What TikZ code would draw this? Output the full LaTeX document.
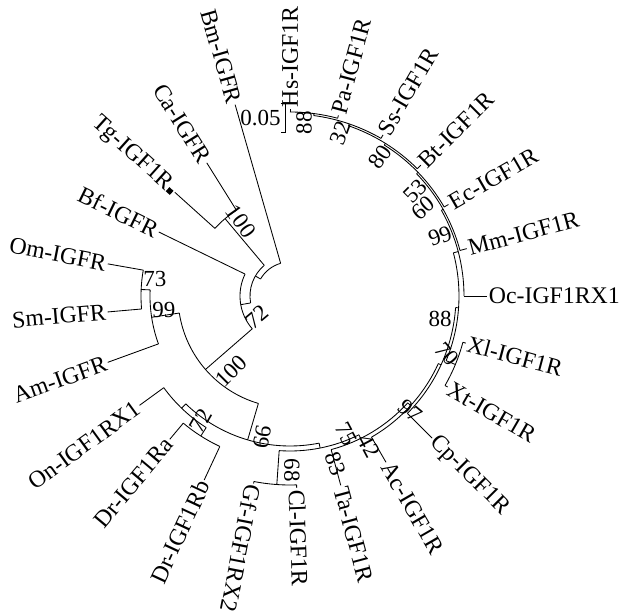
\documentclass[tikz,border=0pt]{standalone}
\usepackage{fontspec}
\setmainfont{Liberation Serif}
\newcommand{\tleaf}[4]{\coordinate (#1b) at (#2:#3);\coordinate (#1) at (#2:#4);\draw (#1b) -- (#1);}
\newcommand{\tnode}[6]{\coordinate (#1b) at (#2:#3);\coordinate (#1) at (#2:#4);\draw (#1b) -- (#1);\draw (#5:#4) arc[start angle=#5,end angle=#6,radius=#4];}
\begin{document}
\begin{tikzpicture}[x=1pt,y=1pt,line width=0.85pt,
 lab/.style={font=\fontsize{23.8}{26}\selectfont,inner sep=1.5pt},
 bsv/.style={font=\fontsize{23}{25}\selectfont,inner sep=0pt}]
\useasboundingbox (-290,-317) rectangle (342,296);
% root and invertebrates
\draw (106:34) arc[start angle=106,end angle=150,radius=34];
\tleaf{Bm}{106}{34}{199}
\tnode{A}{150}{34}{40}{130}{190}
\tnode{C1}{130}{40}{101}{122}{138}
\tleaf{Ca}{122}{101}{157}
\tleaf{Tg}{138}{101}{155}
\tnode{B}{190}{40}{50}{154}{221}
\tleaf{Bf}{154}{50}{146}
\tnode{N4}{221}{50}{112}{188.75}{253.6}
\tnode{P}{188.75}{112}{140}{177.5}{200}
\tleaf{Am}{200}{140}{194}
\tnode{Q}{177.5}{140}{149}{170}{185}
\tleaf{Om}{170}{149}{185}
\tleaf{Sm}{185}{149}{183}
% vertebrates
\tnode{V}{253.6}{112}{150}{226}{281.2}
\tnode{F}{226}{150}{156}{216}{237.5}
\tleaf{On}{216}{156}{186}
\tnode{D}{237.5}{156}{166}{230}{245}
\tleaf{Dra}{230}{166}{187}
\tleaf{Drb}{245}{166}{203}
\tnode{T}{281.2}{150}{155}{266}{296.4}
\tnode{GC}{266}{155}{189}{259}{272}
\tleaf{Gf}{259}{189}{191}
\tleaf{Cl}{272}{189}{192}
\tnode{R1}{296.4}{155}{159}{285}{317.75}
\tleaf{Ta}{285}{159}{196}
\tnode{R2}{317.75}{159}{163}{300}{335.5}
\tleaf{Ac}{300}{163}{192}
\tnode{R3}{335.5}{163}{166}{315}{356}
\tleaf{Cp}{315}{166}{201}
\tnode{XM}{356}{166}{169}{337.5}{374.8}
\tnode{X}{337.5}{169}{179}{330}{345}
\tleaf{Xt}{330}{179}{182}
\tleaf{Xl}{345}{179}{182}
\tnode{M6}{374.8}{169}{174}{360}{389.5}
\tleaf{Oc}{360}{174}{197}
\tnode{M5}{389.5}{174}{176}{375}{404}
\tleaf{Mm}{375}{176}{183}
\tnode{M4}{404}{176}{178}{390}{418}
\tleaf{Ec}{390}{178}{183}
\tnode{M3}{418}{178}{180}{405}{431}
\tleaf{Bt}{405}{180}{185}
\tnode{M2}{431}{180}{182}{420}{442.5}
\tleaf{Ss}{420}{182}{186}
\tnode{M1}{442.5}{182}{184}{435}{450}
\tleaf{Pa}{435}{184}{187}
\tleaf{Hs}{450}{184}{187}
% leaf labels, right half
\node[lab,anchor=west,rotate=90] (LHs) at (Hs) {Hs-IGF1R};
\node[lab,anchor=west,rotate=75] (LPa) at (Pa) {Pa-IGF1R};
\node[lab,anchor=west,rotate=60] (LSs) at (Ss) {Ss-IGF1R};
\node[lab,anchor=west,rotate=45] (LBt) at (Bt) {Bt-IGF1R};
\node[lab,anchor=west,rotate=30] (LEc) at (Ec) {Ec-IGF1R};
\node[lab,anchor=west,rotate=15] (LMm) at (Mm) {Mm-IGF1R};
\node[lab,anchor=west,rotate=0] (LOc) at (Oc) {Oc-IGF1RX1};
\node[lab,anchor=west,rotate=-15] (LXl) at (Xl) {Xl-IGF1R};
\node[lab,anchor=west,rotate=-30] (LXt) at (Xt) {Xt-IGF1R};
\node[lab,anchor=west,rotate=-45] (LCp) at (Cp) {Cp-IGF1R};
\node[lab,anchor=west,rotate=-60] (LAc) at (Ac) {Ac-IGF1R};
\node[lab,anchor=west,rotate=-75] (LTa) at (Ta) {Ta-IGF1R};
\node[lab,anchor=west,rotate=-88] (LCl) at (Cl) {Cl-IGF1R};
\node[lab,anchor=west,rotate=-101] (LGf) at (Gf) {Gf-IGF1RX2};
% leaf labels, left half
\node[lab,anchor=east,rotate=-74] (LBm) at (Bm) {Bm-IGFR};
\node[lab,anchor=east,rotate=-58] (LCa) at (Ca) {Ca-IGFR};
\node[lab,anchor=east,rotate=-42] (LTg) at (Tg) {Tg-IGF1R\rule{5.5pt}{5.5pt}};
\node[lab,anchor=east,rotate=-26] (LBf) at (Bf) {Bf-IGFR};
\node[lab,anchor=east,rotate=-11] (LOm) at (Om) {Om-IGFR};
\node[lab,anchor=east,rotate=5] (LSm) at (Sm) {Sm-IGFR};
\node[lab,anchor=east,rotate=20] (LAm) at (Am) {Am-IGFR};
\node[lab,anchor=east,rotate=36] (LOn) at (On) {On-IGF1RX1};
\node[lab,anchor=east,rotate=50] (LDra) at (Dra) {Dr-IGF1Ra};
\node[lab,anchor=east,rotate=65] (LDrb) at (Drb) {Dr-IGF1Rb};
% bootstrap values
\node[bsv,rotate=90] (b1) at (14,173) {88};
\node[bsv,rotate=70] (b2) at (50,163) {32};
\node[bsv,rotate=55] (b3) at (90,139) {80};
\node[bsv,rotate=45] (b4) at (125,105) {53};
\node[bsv,rotate=40] (b5) at (133,88) {60};
\node[bsv,rotate=20] (b6) at (150,60) {99};
\node[bsv] (b7) at (150,-23) {88};
\node[bsv,rotate=-50] (b8) at (157,-58) {70};
\node[bsv,rotate=-40] (b9) at (120,-115) {97};
\node[bsv,rotate=-62] (b10) at (79,-150) {42};
\node[bsv,rotate=-62] (b11) at (56,-138) {75};
\node[bsv,rotate=-70] (b12) at (46,-168) {83};
\node[bsv,rotate=-90] (b13) at (2,-174) {68};
\node[bsv,rotate=-100] (b14) at (-28,-141) {99};
\node[bsv,rotate=60] (b15) at (-89,-125) {72};
\node[bsv,rotate=45] (b16) at (-59,-75) {100};
\node[bsv,rotate=40] (b17) at (-33,-21) {72};
\node[bsv,rotate=-55] (b18) at (-49,75) {100};
\node[bsv] (b19) at (-135,17) {73};
\node[bsv] (b20) at (-126,-14) {99};
% scale bar
\coordinate (s1) at (-5,193);
\coordinate (s2) at (-5,164);
\draw (s1) ++(-4,0) -- (s1) -- (s2) -- ++(-4,0);
\node[bsv,anchor=east] (sl) at (-9,178) {0.05};
\end{tikzpicture}
\end{document}
